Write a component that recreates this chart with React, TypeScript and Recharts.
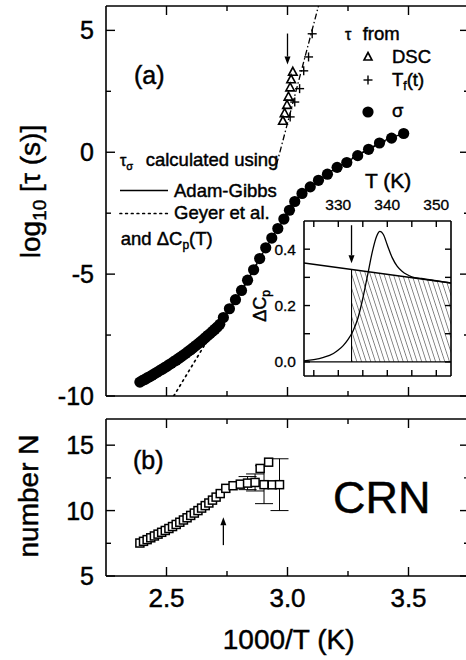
import React from 'react'
import {
  ComposedChart, Scatter, Line, Area, XAxis, YAxis, ReferenceLine, ReferenceArea, ErrorBar,
} from 'recharts'

const F = '"Liberation Sans", Arial, Helvetica, sans-serif'
const TXT = { fontFamily: F, fill: '#000', stroke: '#000', strokeWidth: 0.45 }

// ---------- panel (a): log10 tau vs 1000/T ----------
// sigma, dense low-T band then the sparser branch
const sigmaDense: [number, number][] = [
  [2.39, -9.43], [2.40, -9.37], [2.41, -9.32], [2.42, -9.26], [2.43, -9.21], [2.44, -9.15],
  [2.45, -9.09], [2.46, -9.03], [2.47, -8.97], [2.48, -8.91], [2.49, -8.85], [2.50, -8.79],
  [2.51, -8.72], [2.52, -8.66], [2.53, -8.59], [2.54, -8.53], [2.55, -8.46], [2.56, -8.39],
  [2.57, -8.32], [2.58, -8.25], [2.59, -8.17], [2.60, -8.10], [2.61, -8.02], [2.62, -7.94],
  [2.63, -7.86], [2.64, -7.78], [2.65, -7.70], [2.66, -7.61], [2.67, -7.52], [2.68, -7.44],
  [2.69, -7.35], [2.70, -7.26], [2.71, -7.17], [2.72, -7.06],
]
const sigmaUpper: [number, number][] = [
  [2.735, -6.78], [2.760, -6.42], [2.785, -6.05], [2.810, -5.67], [2.835, -5.25], [2.860, -4.82],
  [2.885, -4.36], [2.910, -3.92], [2.935, -3.52], [2.960, -3.13], [2.985, -2.74], [3.008, -2.38],
  [3.030, -2.02], [3.060, -1.69], [3.094, -1.42], [3.128, -1.15], [3.165, -0.90], [3.205, -0.62],
  [3.245, -0.42], [3.290, -0.14], [3.335, 0.12], [3.380, 0.38], [3.430, 0.58], [3.480, 0.77],
]
const dscPts: [number, number][] = [
  [3.022, 3.29], [3.015, 2.98], [3.011, 2.65], [3.004, 2.27], [2.998, 1.93], [2.988, 1.59], [2.981, 1.28],
]
const tfPts: [number, number][] = [
  [3.011, 1.45], [3.030, 2.06], [3.050, 2.61], [3.067, 3.34], [3.087, 3.91], [3.102, 4.86],
]
const adamGibbs: [number, number][] = [
  [2.39, -9.43], [2.45, -9.09], [2.50, -8.79], [2.55, -8.46], [2.60, -8.10], [2.65, -7.70],
  [2.70, -7.26], [2.735, -6.78], [2.785, -6.05], [2.835, -5.25], [2.885, -4.36], [2.935, -3.52],
  [2.985, -2.74], [3.030, -2.02], [3.060, -1.69], [3.128, -1.15], [3.205, -0.62], [3.290, -0.14],
  [3.380, 0.38], [3.480, 0.77],
]
const geyer: [number, number][] = [
  [2.53, -10.0], [2.58, -9.18], [2.63, -8.36], [2.68, -7.55], [2.72, -7.0], [2.76, -6.42],
  [2.81, -5.67], [2.86, -4.82], [2.91, -3.92], [2.96, -3.13], [3.03, -2.02], [3.094, -1.42],
  [3.205, -0.62], [3.335, 0.12], [3.48, 0.77],
]
const dscFit: [number, number][] = [[2.955, -0.5], [3.128, 6.0]]

// ---------- panel (b): number N ----------
const squares: [number, number][] = [
  [2.390, 7.52], [2.405, 7.65], [2.420, 7.78], [2.435, 7.92], [2.450, 8.06], [2.465, 8.20],
  [2.480, 8.34], [2.495, 8.48], [2.510, 8.63], [2.525, 8.78], [2.540, 8.94], [2.555, 9.11],
  [2.570, 9.28], [2.585, 9.45], [2.600, 9.63], [2.615, 9.81], [2.630, 10.00], [2.645, 10.19],
  [2.660, 10.38], [2.675, 10.58], [2.690, 10.80], [2.705, 11.03], [2.722, 11.30], [2.745, 11.70],
  [2.775, 11.90], [2.805, 12.02], [2.887, 13.22], [2.922, 13.70],
]
// [x, N, error]
const squaresErr: [number, number, number][] = [
  [2.835, 12.10, 0.5], [2.866, 12.15, 0.65], [2.903, 11.98, 1.45], [2.937, 11.97, 0], [2.967, 11.98, 1.98],
]

// ---------- inset: Delta Cp vs T ----------
const cpBase: [number, number][] = [[323, 0.351], [353, 0.280]]
const cpHatch: [number, number][] = [[332.7, 0.328], [353, 0.280]]
const cpPeak: [number, number][] = [
  [323, 0.004], [325, 0.008], [327, 0.016], [329, 0.03], [330, 0.042], [331, 0.058], [332, 0.08],
  [333, 0.11], [334, 0.155], [335, 0.225], [336, 0.31], [337, 0.395], [337.8, 0.445], [338.5, 0.463],
  [339.2, 0.452], [340, 0.415], [341, 0.37], [342, 0.34], [343, 0.322], [344, 0.31], [345, 0.302],
  [347, 0.296], [350, 0.288], [353, 0.28],
]

const xTicks = [2.5, 2.75, 3.0, 3.25, 3.5]
const xMajor = [2.5, 3.0, 3.5]
const tauTicks = [-10, -7.5, -5, -2.5, 0, 2.5, 5]
const tauMajor = [-10, -5, 0, 5]
const nTicks = [5, 7.5, 10, 12.5, 15]
const nMajor = [5, 10, 15]
const tTicks = [325, 330, 335, 340, 345, 350]
const tMajor = [330, 340, 350]
const cpTicks = [0, 0.1, 0.2, 0.3, 0.4]
const cpMajor = [0, 0.2, 0.4]

const toXY = (a: [number, number][]) => a.map(([x, y]) => ({ x, y }))

type Side = 'left' | 'right' | 'top' | 'bottom'
function mkTick(side: Side, majors: number[], fmt: ((v: number) => string) | null,
  fs = 24, gap = 12, majorLen = 9, minorLen = 5) {
  return (p: any) => {
    const v = Number(p.payload?.value)
    const isMajor = majors.some((m) => Math.abs(m - v) < 1e-6)
    const len = isMajor ? majorLen : minorLen
    const x = Number(p.x), y = Number(p.y)
    const l = side === 'left' ? [x, y, x + len, y]
      : side === 'right' ? [x, y, x - len, y]
        : side === 'top' ? [x, y, x, y + len] : [x, y, x, y - len]
    let txt = null
    if (fmt && isMajor) {
      const common = { fontSize: fs, ...TXT, strokeWidth: fs > 18 ? 0.45 : 0.3 }
      if (side === 'left') txt = <text x={x - gap} y={y} dy="0.36em" textAnchor="end" {...common}>{fmt(v)}</text>
      else if (side === 'bottom') txt = <text x={x} y={y + gap} textAnchor="middle" {...common}>{fmt(v)}</text>
      else if (side === 'top') txt = <text x={x} y={y - gap} textAnchor="middle" {...common}>{fmt(v)}</text>
    }
    return (
      <g>
        <line x1={l[0]} y1={l[1]} x2={l[2]} y2={l[3]} stroke="#000" strokeWidth={1.4} />
        {txt}
      </g>
    )
  }
}

function Arrow(p: any) {
  const { x1, y1, x2, y2 } = p
  const a = Math.atan2(y2 - y1, x2 - x1)
  const L = 8, W = 3
  const bx = x2 - L * Math.cos(a), by = y2 - L * Math.sin(a)
  const nx = -Math.sin(a) * W, ny = Math.cos(a) * W
  return (
    <g>
      <line x1={x1} y1={y1} x2={bx} y2={by} stroke="#000" strokeWidth={1.3} />
      <polygon points={`${x2},${y2} ${bx + nx},${by + ny} ${bx - nx},${by - ny}`} fill="#000" />
    </g>
  )
}

const Dot = (p: any) => <circle cx={p.cx} cy={p.cy} r={5.6} fill="#000" />
const Tri = (p: any) => (
  <polygon points={`${p.cx},${p.cy - 4.8} ${p.cx + 4.3},${p.cy + 3.2} ${p.cx - 4.3},${p.cy + 3.2}`}
    fill="#fff" stroke="#000" strokeWidth={1.6} />
)
const Plus = (p: any) => (
  <g stroke="#000" strokeWidth={1.4}>
    <line x1={p.cx - 4.5} y1={p.cy} x2={p.cx + 4.5} y2={p.cy} />
    <line x1={p.cx} y1={p.cy - 4.5} x2={p.cx} y2={p.cy + 4.5} />
  </g>
)
const Sq = (p: any) => (
  <rect x={p.cx - 4} y={p.cy - 4} width={8} height={8} fill="#fff" stroke="#000" strokeWidth={1.5} />
)

const axisLine = { stroke: '#000', strokeWidth: 1.6 }
const fmtX = (v: number) => v.toFixed(1)
const fmtInt = (v: number) => String(v)

function TopPanel() {
  return (
    <ComposedChart width={480} height={412} margin={{ top: 0, right: 0, bottom: 0, left: 0 }}>
      <XAxis xAxisId="b" dataKey="x" type="number" domain={[2.25, 3.75]} allowDataOverflow ticks={xTicks}
        interval={0} height={16} tickSize={0} tickMargin={0} tickLine={false} axisLine={axisLine}
        tick={mkTick('bottom', xMajor, null)} />
      <XAxis xAxisId="t" orientation="top" dataKey="x" type="number" domain={[2.25, 3.75]} allowDataOverflow
        ticks={xTicks} interval={0} height={6} tickSize={0} tickMargin={0} tickLine={false} axisLine={axisLine}
        tick={mkTick('top', xMajor, null)} />
      <YAxis yAxisId="l" dataKey="y" type="number" domain={[-10, 6]} allowDataOverflow ticks={tauTicks}
        interval={0} width={106} tickSize={0} tickMargin={0} tickLine={false} axisLine={axisLine}
        tick={mkTick('left', tauMajor, fmtInt, 25, 12)} />
      <YAxis yAxisId="r" orientation="right" dataKey="y" type="number" domain={[-10, 6]} allowDataOverflow
        ticks={tauTicks} interval={0} width={11} tickSize={0} tickMargin={0} tickLine={false} axisLine={axisLine}
        tick={mkTick('right', tauMajor, null)} />
      <Line xAxisId="b" yAxisId="l" data={toXY(geyer)} dataKey="y" type="monotone" stroke="#000"
        strokeWidth={1.7} strokeDasharray="1.7 4" strokeLinecap="round" dot={false} isAnimationActive={false} />
      <Line xAxisId="b" yAxisId="l" data={toXY(adamGibbs)} dataKey="y" type="monotone" stroke="#000"
        strokeWidth={1.3} dot={false} isAnimationActive={false} />
      <Line xAxisId="b" yAxisId="l" data={toXY(dscFit)} dataKey="y" type="linear" stroke="#000"
        strokeWidth={1.3} strokeDasharray="6 2.5 1.5 2.5" dot={false} isAnimationActive={false} />
      <Scatter xAxisId="b" yAxisId="l" data={toXY(sigmaDense)} shape={Dot} isAnimationActive={false} />
      <Scatter xAxisId="b" yAxisId="l" data={toXY(sigmaUpper)} shape={Dot} isAnimationActive={false} />
      <Scatter xAxisId="b" yAxisId="l" data={toXY(tfPts)} shape={Plus} isAnimationActive={false} />
      <Scatter xAxisId="b" yAxisId="l" data={toXY(dscPts)} shape={Tri} isAnimationActive={false} />
      <ReferenceLine xAxisId="b" yAxisId="l" segment={[{ x: 3.0, y: 4.87 }, { x: 3.0, y: 3.6 }]} shape={Arrow} />
    </ComposedChart>
  )
}

function BottomPanel() {
  const errData = squaresErr.map(([x, y, e]) => ({ x, y, e }))
  return (
    <ComposedChart width={480} height={247} margin={{ top: 0, right: 0, bottom: 0, left: 0 }}>
      <XAxis xAxisId="b" dataKey="x" type="number" domain={[2.25, 3.75]} allowDataOverflow ticks={xTicks}
        interval={0} height={84} tickSize={0} tickMargin={0} tickLine={false} axisLine={axisLine}
        tick={mkTick('bottom', xMajor, fmtX, 26, 31)} />
      <XAxis xAxisId="t" orientation="top" dataKey="x" type="number" domain={[2.25, 3.75]} allowDataOverflow
        ticks={xTicks} interval={0} height={6} tickSize={0} tickMargin={0} tickLine={false} axisLine={axisLine}
        tick={mkTick('top', xMajor, null)} />
      <YAxis yAxisId="l" dataKey="y" type="number" domain={[5, 17]} allowDataOverflow ticks={nTicks}
        interval={0} width={106} tickSize={0} tickMargin={0} tickLine={false} axisLine={axisLine}
        tick={mkTick('left', nMajor, fmtInt, 25, 12)} />
      <YAxis yAxisId="r" orientation="right" dataKey="y" type="number" domain={[5, 17]} allowDataOverflow
        ticks={nTicks} interval={0} width={11} tickSize={0} tickMargin={0} tickLine={false} axisLine={axisLine}
        tick={mkTick('right', nMajor, null)} />
      <Scatter xAxisId="b" yAxisId="l" data={toXY(squares)} shape={Sq} isAnimationActive={false} />
      <Scatter xAxisId="b" yAxisId="l" data={errData} shape={Sq} isAnimationActive={false}>
        <ErrorBar dataKey="e" direction="y" width={9} stroke="#000" strokeWidth={1} />
      </Scatter>
      <ReferenceLine xAxisId="b" yAxisId="l" segment={[{ x: 2.735, y: 7.36 }, { x: 2.735, y: 9.5 }]} shape={Arrow} />
    </ComposedChart>
  )
}

function Inset() {
  return (
    <ComposedChart width={197} height={191} margin={{ top: 0, right: 0, bottom: 0, left: 0 }}>
      <defs>
        <pattern id="hatch" width={4.4} height={10} patternUnits="userSpaceOnUse" patternTransform="rotate(-18)">
          <line x1={0} y1={0} x2={0} y2={10} stroke="#000" strokeWidth={0.9} />
        </pattern>
      </defs>
      <XAxis xAxisId="b" dataKey="x" type="number" domain={[323, 353]} allowDataOverflow ticks={tTicks}
        interval={0} height={6} tickSize={0} tickMargin={0} tickLine={false} axisLine={axisLine}
        tick={mkTick('bottom', tTicks, null, 15, 0, 6, 6)} />
      <XAxis xAxisId="t" orientation="top" dataKey="x" type="number" domain={[323, 353]} allowDataOverflow
        ticks={tTicks} interval={0} height={30} tickSize={0} tickMargin={0} tickLine={false} axisLine={axisLine}
        tick={mkTick('top', tTicks, (v) => (tMajor.includes(v) ? String(v) : ''), 15.5, 11, 6, 6)} />
      <YAxis yAxisId="l" dataKey="y" type="number" domain={[-0.05, 0.5]} allowDataOverflow ticks={cpTicks}
        interval={0} width={40} tickSize={0} tickMargin={0} tickLine={false} axisLine={axisLine}
        tick={mkTick('left', cpTicks, (v) => (cpMajor.some((m) => Math.abs(m - v) < 1e-6) ? v.toFixed(1) : ''), 15.5, 8, 6, 6)} />
      <YAxis yAxisId="r" orientation="right" dataKey="y" type="number" domain={[-0.05, 0.5]} allowDataOverflow
        ticks={cpTicks} interval={0} width={10} tickSize={0} tickMargin={0} tickLine={false} axisLine={axisLine}
        tick={mkTick('right', cpTicks, null, 15, 0, 6, 6)} />
      <ReferenceArea xAxisId="b" yAxisId="l" x1={323} x2={353} y1={-0.05} y2={0.5} fill="#fff" fillOpacity={1} stroke="none" />
      <Area xAxisId="b" yAxisId="l" data={toXY(cpHatch)} dataKey="y" type="linear" baseValue={0}
        fill="url(#hatch)" fillOpacity={1} stroke="none" isAnimationActive={false} />
      <ReferenceLine xAxisId="b" yAxisId="l" y={0} stroke="#000" strokeWidth={1.4} />
      <ReferenceLine xAxisId="b" yAxisId="l" segment={[{ x: 332.7, y: 0 }, { x: 332.7, y: 0.328 }]} stroke="#000" strokeWidth={1.1} />
      <Line xAxisId="b" yAxisId="l" data={toXY(cpBase)} dataKey="y" type="linear" stroke="#000"
        strokeWidth={1.3} dot={false} isAnimationActive={false} />
      <Line xAxisId="b" yAxisId="l" data={toXY(cpPeak)} dataKey="y" type="monotone" stroke="#000"
        strokeWidth={1.3} dot={false} isAnimationActive={false} />
      <ReferenceLine xAxisId="b" yAxisId="l" segment={[{ x: 332.7, y: 0.485 }, { x: 332.7, y: 0.35 }]} shape={Arrow} />
    </ComposedChart>
  )
}

function Overlay() {
  const t = TXT
  return (
    <svg width={466} height={660} style={{ position: 'absolute', left: 0, top: 0, pointerEvents: 'none' }}>
      <text transform="translate(40,191.5) rotate(-90)" textAnchor="middle" fontSize={28} {...t}>
        log<tspan fontSize={19} dy={6}>10</tspan><tspan dy={-6}> [τ (s)]</tspan>
      </text>
      <text transform="translate(38,496) rotate(-90)" textAnchor="middle" fontSize={28} {...t}>number N</text>
      <text x={288.7} y={649} textAnchor="middle" fontSize={28} {...t}>1000/T (K)</text>
      <text x={134} y={84} fontSize={25} {...t}>(a)</text>
      <text x={133} y={469} fontSize={25} {...t}>(b)</text>
      <text x={333} y={512.7} fontSize={45} {...t}>CRN</text>

      <text x={345} y={40} fontSize={16} {...t}>τ</text>
      <text x={362.7} y={40} fontSize={18.5} {...t}>from</text>
      <polygon points="368,52.5 372,60 364,60" fill="#fff" stroke="#000" strokeWidth={1.6} />
      <text x={392} y={63} fontSize={18.5} {...t}>DSC</text>
      <g stroke="#000" strokeWidth={1.4}>
        <line x1={363.5} y1={80} x2={372.5} y2={80} />
        <line x1={368} y1={75.5} x2={368} y2={84.5} />
      </g>
      <text x={392} y={86} fontSize={18.5} {...t}>T<tspan fontSize={12} dy={4}>f</tspan><tspan dy={-4}>(t)</tspan></text>
      <circle cx={368} cy={112} r={5.6} fill="#000" />
      <text x={392} y={117} fontSize={18.5} {...t}>σ</text>

      <text x={120} y={166} fontSize={16} {...t}>τ<tspan fontSize={11} dy={4}>σ</tspan></text>
      <text x={145.7} y={166} fontSize={18.5} {...t}>calculated using</text>
      <line x1={120} y1={190.5} x2={168} y2={190.5} stroke="#000" strokeWidth={1.3} />
      <text x={174} y={197} fontSize={18.5} {...t}>Adam-Gibbs</text>
      <line x1={120} y1={213.5} x2={168} y2={213.5} stroke="#000" strokeWidth={1.7} strokeDasharray="1.7 4" strokeLinecap="round" />
      <text x={174} y={219} fontSize={18.5} {...t}>Geyer et al.</text>
      <text x={120.7} y={245} fontSize={18.5} {...t}>and ΔC<tspan fontSize={12} dy={4}>p</tspan><tspan dy={-4}>(T)</tspan></text>

      <text x={365} y={188} fontSize={21} {...t}>T (K)</text>
      <text transform="translate(266,306) rotate(-90)" textAnchor="middle" fontSize={18} {...t}>
        ΔC<tspan fontSize={12} dy={4}>p</tspan>
      </text>
    </svg>
  )
}

export default function App() {
  return (
    <div style={{ position: 'absolute', left: 0, top: 0, width: 466, height: 660, overflow: 'hidden', background: '#fff' }}>
      <div style={{ position: 'absolute', left: 0, top: 0 }}><TopPanel /></div>
      <div style={{ position: 'absolute', left: 0, top: 413 }}><BottomPanel /></div>
      <div style={{ position: 'absolute', left: 264, top: 190.7 }}><Inset /></div>
      <Overlay />
    </div>
  )
}
